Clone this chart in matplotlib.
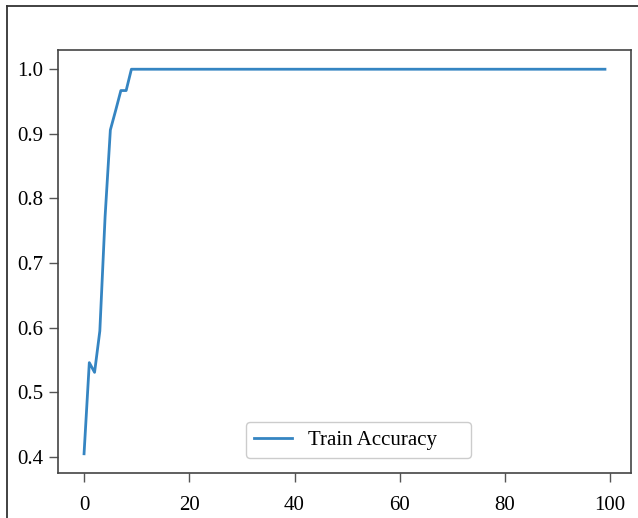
import matplotlib
matplotlib.use("Agg")
import matplotlib.pyplot as plt
from matplotlib.lines import Line2D

# Data
epochs = list(range(100))
early_acc = [0.405, 0.546, 0.531, 0.595, 0.772, 0.906, 0.936, 0.967, 0.967, 1.0]
train_acc = early_acc + [1.0] * (100 - len(early_acc))
series_label = "Train Accuracy"

plt.rcParams['font.family'] = ['Liberation Serif', 'DejaVu Serif']
plt.rcParams['font.size'] = 15

fig = plt.figure(figsize=(6.38, 5.18), dpi=100)
ax = fig.add_axes([58/638, 45/518, (631-58)/638, (473-50)/518])

ax.plot(epochs, train_acc, color='#3585c2', linewidth=2.0, label=series_label)

ax.set_xticks([0, 20, 40, 60, 80, 100])
ax.set_yticks([0.4, 0.5, 0.6, 0.7, 0.8, 0.9, 1.0])
ax.tick_params(length=6.5, width=1.0, color='#555555', labelcolor='black', pad=4)
ax.tick_params(axis='x', pad=10)
for s in ax.spines.values():
    s.set_color('#444444')
    s.set_linewidth(1.2)

leg = ax.legend(loc='lower left', bbox_to_anchor=(0.328, 0.035, 0.393, 0.1),
                mode='expand', borderaxespad=0, fontsize=15,
                handlelength=1.8, borderpad=0.4, framealpha=1.0, fancybox=True)
leg.get_frame().set_edgecolor('#cccccc')

# outer frame (cropped image border)
W, H = 638, 518
fig.add_artist(Line2D([7/W, 7/W], [0, 1 - 6/H], transform=fig.transFigure, color='#333333', linewidth=1.3))
fig.add_artist(Line2D([7/W, 1.0], [1 - 6/H, 1 - 6/H], transform=fig.transFigure, color='#333333', linewidth=1.3))

fig.savefig('out.png', dpi=100)
